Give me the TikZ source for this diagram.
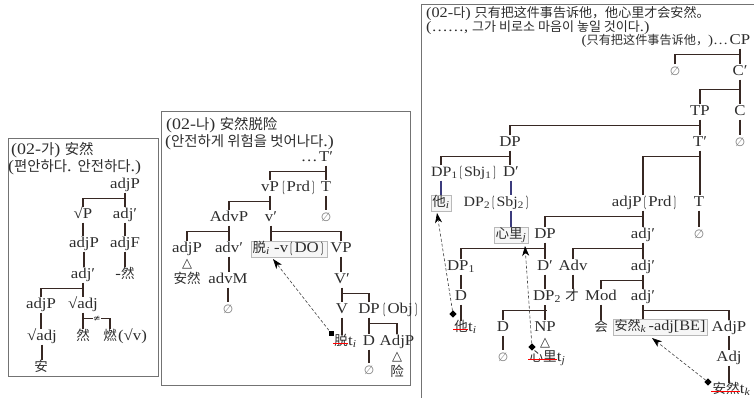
\documentclass[tikz,border=0pt]{standalone}
\usepackage{fontspec}
\usepackage{graphicx}
\setmainfont{Liberation Serif}[FakeStretch=1.12]
\newfontfamily\korf{Noto Sans CJK KR}[Scale=0.9]
\newfontfamily\chnf{Noto Sans CJK SC}[Scale=0.9]
\newfontfamily\symf{DejaVu Sans}
\usetikzlibrary{arrows.meta}
\definecolor{txt}{RGB}{45,45,45}
\definecolor{ln}{RGB}{55,40,35}
\definecolor{bln}{RGB}{60,60,125}
\definecolor{frm}{RGB}{115,115,115}
\definecolor{nulc}{RGB}{125,125,125}
\newcommand\kor[1]{{\korf #1}}
\newcommand\chn[1]{{\chnf #1}}
\newcommand\rt{√}
\newcommand\nul{{\symf\fontsize{12}{12}\selectfont ∅}}
\newcommand\tri{{\symf\fontsize{13}{13}\selectfont △}}
\newcommand\lbk{\scalebox{0.55}[1]{\symf\fontsize{14}{14}\selectfont ❲}}
\newcommand\rbk{\scalebox{0.55}[1]{\symf\fontsize{14}{14}\selectfont ❳}}
\newcommand\sbi[1]{\textsubscript{\itshape #1}}
\newcommand\vln[2]{\draw[tl] (#1.south) -- (#1.south |- #2.north);}
\newcommand\barl[2]{\draw[tl] (#2.north) |- ([yshift=-6pt]#1.south);}
\begin{document}
\begin{tikzpicture}[x=1pt,y=-1pt,
  tn/.style={inner sep=1pt,text height=10pt,text depth=3pt,font=\fontsize{15}{16}\selectfont,text=txt},
  tns/.style={tn,font=\fontsize{14.2}{15}\selectfont},
  hd/.style={inner sep=0pt,anchor=west,font=\fontsize{16}{17}\selectfont,text=txt},
  hs/.style={inner sep=0pt,anchor=west,font=\fontsize{14.5}{15}\selectfont,text=txt},
  bx/.style={tn,draw=gray!55,fill=gray!7,inner sep=1.5pt,line width=0.6pt},
  nn/.style={tn,text=nulc},
  tl/.style={draw=ln,line width=1.1pt},
  tlb/.style={draw=bln,line width=1.1pt},
  frame/.style={draw=frm,line width=1pt},
  sq/.style={fill=black,minimum size=5pt,inner sep=0pt},
  dm/.style={fill=black,minimum size=5pt,inner sep=0pt,rotate=45},
  arr/.style={draw=black!75,line width=0.6pt,dash pattern=on 3pt off 2pt,-{Stealth[length=10pt,width=7pt,inset=3pt,black]}},
  rs/.style={draw=red,line width=0.8pt}]
\useasboundingbox (0,0) rectangle (754,398);
% frames
\draw[frame] (8,139) rectangle (158,376);
\draw[frame] (161,112) rectangle (410,385);
\draw[frame] (421,398) -- (421,5) -- (754,5);

% ---------- panel 1
\node[hd] (h1a) at (11,150) {(02-\kor{가}) \chn{安然}};
\node[hd] (h1b) at (8,167) {(\kor{편안하다}. \kor{안전하다}.)};
\node[tn] (a1) at (125,185) {adjP};
\node[tn] (a2) at (83,215) {\rt P};
\node[tn] (a3) at (125,215) {adj′};
\node[tn] (a4) at (84,244) {adjP};
\node[tn] (a5) at (125,244) {adjF};
\node[tn] (a6) at (83,275) {adj′};
\node[tn] (a7) at (125,275) {-\chn{然}};
\node[tn] (a8) at (41,305) {adjP};
\node[tn] (a9) at (83,305) {\rt adj};
\node[tn] (a10) at (42,337) {\rt adj};
\node[tn] (a11) at (83,337) {\chn{然}};
\node[tn] (a12) at (110,337) {\chn{燃}};
\node[tn,anchor=west,inner sep=0pt] (a12b) at (a12.east) {(\rt v)};
\node[tn] (a13) at (41,368) {\chn{安}};
\barl{a1}{a2} \vln{a1}{a3}
\vln{a2}{a4} \vln{a3}{a5}
\vln{a4}{a6} \vln{a5}{a7}
\barl{a6}{a8} \vln{a6}{a9}
\vln{a8}{a10} \vln{a10}{a13}
\vln{a9}{a11}
\draw[tl] ([yshift=-6pt]a9.south) -| (a12.north);
\node[fill=white,inner sep=0.4pt,font=\symf\fontsize{9}{9}\selectfont,text=txt] (ne) at (97,318.5) {≄};

% ---------- panel 2
\node[hd] (h2a) at (166,125) {(02-\kor{나}) \chn{安然脱险}};
\node[hd] (h2b) at (165,142) {(\kor{안전하게 위험을 벗어나다}.)};
\node[tn] (b1) at (326,158) {T′};
\node[tn,anchor=east,inner sep=0pt] (b1d) at (b1.west) {…};
\node[tn] (b2) at (270,188) {vP};
\node[tn,anchor=west,inner sep=0pt] (b2b) at (b2.east) {\lbk Prd\rbk};
\node[tn] (b3) at (326,188) {T};
\node[tn] (b4) at (229,218) {AdvP};
\node[tn] (b5) at (271,218) {v′};
\node[nn] (b6) at (326,218) {\nul};
\node[tn] (b7) at (187,249) {adjP};
\node[tn] (b8) at (229,249) {adv′};
\node[bx] (b9) at (289,249) {\chn{脱}\sbi{i} -v\lbk DO\rbk};
\node[tn] (b10) at (341,249) {VP};
\node[tn] (b11) at (187,264) {\tri};
\node[tn] (b12) at (187,280) {\chn{安然}};
\node[tn] (b13) at (228,280) {advM};
\node[tn] (b14) at (342,280) {V′};
\node[nn] (b15) at (228,310) {\nul};
\node[tn] (b16) at (342,310) {V};
\node[tn] (b17) at (369,310) {DP};
\node[tn,anchor=west,inner sep=0pt] (b17b) at (b17.east) {\lbk Obj\rbk};
\node[tn,inner sep=0pt] (b18c) at (341,342) {\chn{脱}};
\node[tn,anchor=west,inner sep=0pt] (b18t) at (b18c.east) {t\sbi{i}};
\node[tn] (b19) at (369,342) {D};
\node[tn] (b20) at (397,342) {AdjP};
\node[tn] (b21) at (397,357) {\tri};
\node[tn] (b22) at (397,373) {\chn{险}};
\node[nn] (b23) at (369,371) {\nul};
\barl{b1}{b2} \vln{b1}{b3}
\vln{b3}{b6}
\barl{b2}{b4} \vln{b2}{b5}
\barl{b4}{b7} \vln{b4}{b8}
\vln{b5}{b9} \barl{b5}{b10}
\vln{b8}{b13} \vln{b13}{b15}
\vln{b10}{b14}
\vln{b14}{b16} \barl{b14}{b17}
\vln{b16}{b18c}
\vln{b17}{b19} \barl{b17}{b20}
\vln{b19}{b23}
\draw[rs] ([xshift=-1pt,yshift=-1.5pt]b18c.west) -- ([yshift=-1.5pt]b18c.east);
\node[sq] (s1) at (331,333) {};
\coordinate (t1) at (273,259);
\draw[arr] (s1) -- (t1);

% ---------- panel 3
\node[hs] (h3a) at (426,14) {(02-\kor{다}) \chn{只有把这件事告诉他，他心里才会安然。}};
\node[hs] (h3b) at (426,28) {(……, \kor{그가 비로소 마음이 놓일 것이다}.)};
\node[tn] (c1) at (740,41) {CP};
\node[tn,anchor=east,inner sep=0pt,font=\fontsize{13.5}{14}\selectfont] (c1h) at (c1.west) {(\chn{只有把这件事告诉他，})…};
\node[nn] (c2) at (675,72) {\nul};
\node[tn] (c3) at (740,72) {C′};
\node[tn] (c4) at (700,112) {TP};
\node[tn] (c5) at (740,112) {C};
\node[tn] (c6) at (510,143) {DP};
\node[tn] (c7) at (700,143) {T′};
\node[nn] (c8) at (740,143) {\nul};
\node[tns,anchor=west] (c9) at (430,173) {DP\textsubscript{1}\lbk Sbj\textsubscript{1}\rbk};
\node[tn] (c10) at (511,173) {D′};
\node[bx] (c11) at (441,203) {\chn{他}\sbi{i}};
\node[tns] (c12) at (497,203) {DP\textsubscript{2}\lbk Sbj\textsubscript{2}\rbk};
\node[tn] (c13) at (645,203) {adjP\lbk Prd\rbk};
\node[tn] (c14) at (699,203) {T};
\node[bx] (c15) at (511,235) {\chn{心里}\sbi{j}};
\node[tn] (c16) at (545,235) {DP};
\node[tn] (c17) at (643,235) {adj′};
\node[nn] (c18) at (699,235) {\nul};
\node[tn] (c19) at (461,267) {DP\textsubscript{1}};
\node[tn] (c20) at (545,267) {D′};
\node[tn] (c21) at (573,267) {Adv};
\node[tn] (c22) at (643,267) {adj′};
\node[tn] (c23) at (461,297) {D};
\node[tn] (c24) at (547,297) {DP\textsubscript{2}};
\node[tn] (c25) at (572,297) {\chn{才}};
\node[tn] (c26) at (601,297) {Mod};
\node[tn] (c27) at (643,297) {adj′};
\node[tn,inner sep=0pt] (c28c) at (461,328) {\chn{他}};
\node[tn,anchor=west,inner sep=0pt] (c28t) at (c28c.east) {t\sbi{i}};
\node[tn] (c29) at (503,328) {D};
\node[tn] (c30) at (545,328) {NP};
\node[tn] (c31) at (601,328) {\chn{会}};
\node[bx,font=\fontsize{14.5}{15}\selectfont] (c32) at (660,327) {\chn{安然}\sbi{k}\,-adj[BE]};
\node[tn] (c33) at (729,328) {AdjP};
\node[tn] (c34) at (545,343) {\tri};
\node[nn] (c35) at (503,358) {\nul};
\node[tn,inner sep=0pt] (c36c) at (543,358) {\chn{心里}};
\node[tn,anchor=west,inner sep=0pt] (c36t) at (c36c.east) {t\sbi{j}};
\node[tn] (c37) at (729,358) {Adj};
\node[tn,inner sep=0pt] (c38c) at (726,390) {\chn{安然}};
\node[tn,anchor=west,inner sep=0pt] (c38t) at (c38c.east) {t\sbi{k}};
\barl{c1}{c2} \vln{c1}{c3}
\vln{c3}{c5} \draw[tl] (c4.north) |- ([yshift=-10pt]c3.south);
\barl{c4}{c6} \vln{c4}{c7}
\vln{c5}{c8}
\vln{c6}{c10}
\draw[tl] (c11.north |- c9.north) |- ([yshift=-6pt]c6.south);
\vln{c7}{c14}
\draw[tl] (c17.north |- c13.north) |- ([yshift=-6pt]c7.south);
\draw[tlb] (c11.north |- c9.south) -- (c11.north);
\draw[tlb] (c10.south) -- (c10.south |- c12.north);
\draw[tlb] (c10.south |- c12.south) -- (c10.south |- c15.north);
\draw[tl] (c17.north |- c13.south) -- (c17.north);
\draw[tl] (c16.north) |- ([yshift=-6pt]c17.north |- c13.south);
\vln{c14}{c18}
\vln{c16}{c20} \barl{c16}{c19}
\vln{c17}{c22} \barl{c17}{c21}
\vln{c19}{c23} \vln{c23}{c28c}
\vln{c20}{c24}
\vln{c21}{c25}
\vln{c22}{c27} \barl{c22}{c26}
\vln{c26}{c31}
\draw[tl] (c30.north) -- (c30.north |- c24.south);
\barl{c24}{c29}
\vln{c27}{c32} \barl{c27}{c33}
\vln{c29}{c35}
\vln{c33}{c37} \vln{c37}{c38c}
\draw[rs] ([xshift=-1pt,yshift=-1.5pt]c28c.west) -- ([yshift=-1.5pt]c28c.east);
\draw[rs] ([xshift=-1pt,yshift=-1.5pt]c36c.west) -- ([yshift=-1.5pt]c36c.east);
\draw[rs] ([xshift=-1pt,yshift=-1.5pt]c38c.west) -- ([yshift=-1.5pt]c38c.east);
\node[dm] (s2) at (453,314) {};
\node[dm] (s3) at (532,347) {};
\node[dm] (s4) at (708,382) {};
\coordinate (t2) at (437,213);
\coordinate (t3) at (525,246);
\coordinate (t4) at (652,338);
\draw[arr] (s2) -- (t2);
\draw[arr] (s3) -- (t3);
\draw[arr] (s4) -- (t4);
\end{tikzpicture}
\end{document}
